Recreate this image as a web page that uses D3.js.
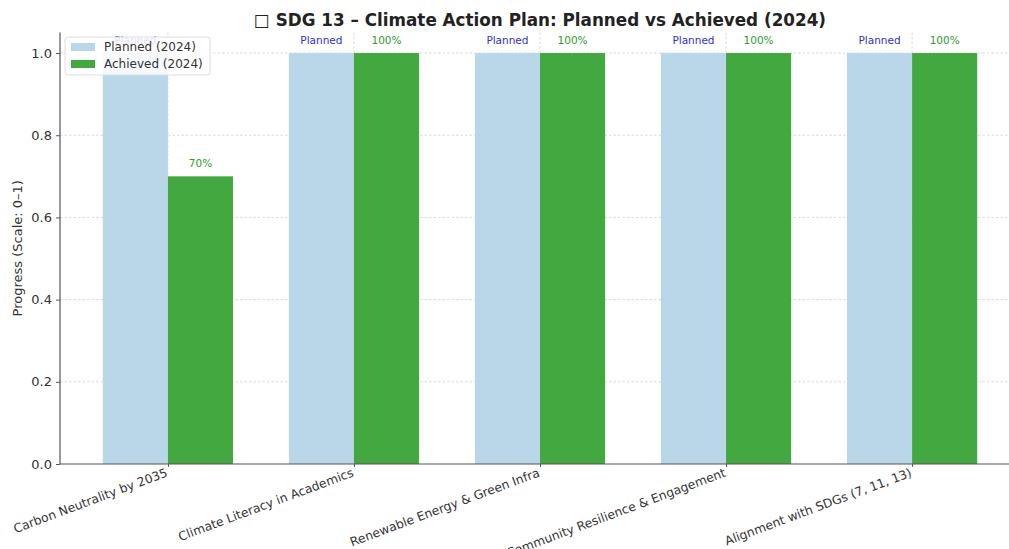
<!DOCTYPE html>
<html><head><meta charset="utf-8">
<script src="https://cdn.jsdelivr.net/npm/d3@7"></script>
<style>body{margin:0;background:#fff}svg{display:block}text{font-family:"DejaVu Sans",sans-serif}</style>
</head><body><svg id="c" width="1009" height="549"></svg>
<script>
const categories = ["Carbon Neutrality by 2035","Climate Literacy in Academics","Renewable Energy & Green Infra","Community Resilience & Engagement","Alignment with SDGs (7, 11, 13)"];
const planned = [1, 1, 1, 1, 1];
const achieved = [0.7, 1, 1, 1, 1];
const achievedLabels = ["70%","100%","100%","100%","100%"];
const yTicks = [0, 0.2, 0.4, 0.6, 0.8, 1.0];
const seriesNames = ["Planned (2024)", "Achieved (2024)"];
const title = "\u25A1 SDG 13 \u2013 Climate Action Plan: Planned vs Achieved (2024)";

const svg = d3.select("#c");
const L = 60, R = 1020, T = 32.5, B = 464;
const x = d3.scaleLinear().domain([-0.58, 4.58]).range([L, R]);
const y = d3.scaleLinear().domain([0, 1.05]).range([B, T]);
const bw = x(0.35) - x(0);
const cPlan = "#b9d7e9", cAch = "#44a840";

// grid
const g = svg.append("g");
g.selectAll(".hg").data(yTicks.slice(1)).join("line")
  .attr("x1", L).attr("x2", 1009).attr("y1", d => y(d)).attr("y2", d => y(d))
  .attr("stroke", "#cfcfcf").attr("stroke-width", 0.8).attr("stroke-dasharray", "2.5,2");
g.selectAll(".vg").data(categories).join("line")
  .attr("x1", (d,i) => x(i)).attr("x2", (d,i) => x(i)).attr("y1", T).attr("y2", B)
  .attr("stroke", "#cfcfcf").attr("stroke-width", 0.8).attr("stroke-dasharray", "2.5,2");

// bars
svg.append("g").selectAll("rect").data(planned).join("rect")
  .attr("x", (d,i) => x(i) - bw).attr("width", bw)
  .attr("y", d => y(d)).attr("height", d => B - y(d)).attr("fill", cPlan);
svg.append("g").selectAll("rect").data(achieved).join("rect")
  .attr("x", (d,i) => x(i)).attr("width", bw)
  .attr("y", d => y(d)).attr("height", d => B - y(d)).attr("fill", cAch);

// value labels
svg.append("g").selectAll("text").data(planned).join("text")
  .attr("x", (d,i) => x(i) - bw/2).attr("y", d => y(d + 0.02) - 1)
  .attr("text-anchor", "middle").attr("font-size", 10.5).attr("fill", "#3030d0").text("Planned");
svg.append("g").selectAll("text").data(achieved).join("text")
  .attr("x", (d,i) => x(i) + bw/2).attr("y", d => y(d + 0.02) - 1)
  .attr("text-anchor", "middle").attr("font-size", 10.5).attr("fill", "#2e9a2e").text((d,i) => achievedLabels[i]);

// axes
const ya = svg.append("g").attr("transform", `translate(${L},0)`)
  .call(d3.axisLeft(y).tickValues(yTicks).tickFormat(d3.format(".1f")).tickSize(4).tickPadding(4));
ya.select(".domain").attr("d", `M0,${T}V${B}`).attr("stroke", "#555").attr("stroke-width", 1.2);
ya.selectAll(".tick line").attr("stroke", "#555");
ya.selectAll(".tick text").attr("font-size", 13).attr("fill", "#333").attr("font-family", "DejaVu Sans");

const xa = svg.append("g").attr("transform", `translate(0,${B})`)
  .call(d3.axisBottom(x).tickValues(d3.range(categories.length)).tickFormat(i => categories[i]).tickSize(3));
xa.select(".domain").attr("d", `M${L},0H1009`).attr("stroke", "#555").attr("stroke-width", 1.2);
xa.selectAll(".tick line").attr("stroke", "#555");
xa.selectAll(".tick text").attr("font-size", 12.3).attr("fill", "#333").attr("font-family", "DejaVu Sans")
  .attr("text-anchor", "end").attr("dy", 0).attr("y", 0)
  .attr("transform", "translate(0,12) rotate(-20.5)");

// y label
svg.append("text").attr("transform", `translate(22,${(T+B)/2}) rotate(-90)`)
  .attr("text-anchor", "middle").attr("font-size", 13).attr("fill", "#333").text("Progress (Scale: 0\u20131)");

// title
svg.append("text").attr("x", 540).attr("y", 26).attr("text-anchor", "middle")
  .attr("font-size", 16.8).attr("font-weight", "bold").attr("fill", "#222").text(title);

// legend
const lg = svg.append("g").attr("transform", "translate(65,37)");
lg.append("rect").attr("width", 145).attr("height", 38).attr("rx", 3)
  .attr("fill", "rgba(255,255,255,0.85)").attr("stroke", "#ddd");
lg.selectAll(".p").data(seriesNames).join("rect")
  .attr("x", 6).attr("y", (d,i) => 6 + i*17).attr("width", 24).attr("height", 8)
  .attr("fill", (d,i) => i ? cAch : cPlan);
lg.selectAll(".t").data(seriesNames).join("text")
  .attr("x", 39).attr("y", (d,i) => 14 + i*17).attr("font-size", 12).attr("fill", "#333").text(d => d);
</script></body></html>
